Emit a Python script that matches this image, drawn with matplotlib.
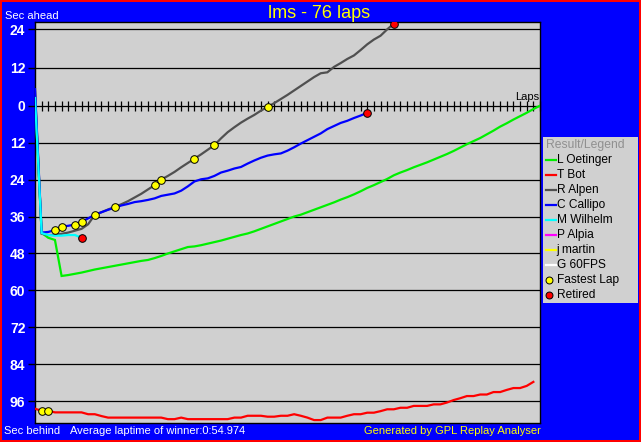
import numpy as np
import matplotlib
matplotlib.use("Agg")
import matplotlib.pyplot as plt
from matplotlib import font_manager
from matplotlib.patches import Rectangle

# ---------------- data ----------------
title = "lms - 76 laps"
total_laps = 76
footer_left = "Sec behind"
footer_mid = "Average laptime of winner:0:54.974"
footer_right = "Generated by GPL Replay Analyser"

drivers = ["L Oetinger", "T Bot", "R Alpen", "C Callipo", "M Wilhelm",
           "P Alpia", "j martin", "G 60FPS"]
driver_colors = ["#00F000", "#FF0000", "#505050", "#0000FF", "#00FFFF",
                 "#FF00FF", "#FFFF00", "#FFFFFF"]

# seconds behind (negative = ahead) per lap, starting at lap 0
oetinger = [-3.0, 41.3, 42.9, 43.6, 55.3, 55.0, 54.6, 54.2, 53.7, 53.2,
            52.8, 52.4, 52.0, 51.6, 51.2, 50.8, 50.4, 50.1, 49.5, 48.8,
            48.0, 47.3, 46.6, 45.9, 45.7, 45.3, 44.8, 44.3, 43.8, 43.2,
            42.6, 42.0, 41.5, 40.8, 40.0, 39.2, 38.4, 37.6, 36.8, 36.0,
            35.4, 34.6, 33.8, 33.0, 32.2, 31.4, 30.5, 29.7, 28.8, 27.8,
            26.7, 25.8, 24.8, 23.8, 22.6, 21.7, 20.9, 20.0, 19.2, 18.4,
            17.5, 16.6, 15.7, 14.7, 13.6, 12.5, 11.5, 10.5, 9.3, 8.1,
            6.8, 5.7, 4.5, 3.4, 2.3, 1.1, 0.0]
tbot = [98.4, 99.1, 99.1, 99.6, 99.6, 99.6, 99.6, 99.6, 100.2, 100.2,
        100.8, 101.3, 101.3, 101.3, 101.3, 101.3, 101.3, 101.3, 101.3, 101.3,
        101.8, 101.8, 101.3, 101.8, 101.8, 101.8, 101.8, 101.8, 101.8, 101.8,
        101.3, 101.3, 100.7, 100.7, 100.7, 101.0, 101.0, 100.7, 100.7, 100.2,
        100.7, 101.3, 102.1, 102.1, 101.3, 101.3, 101.3, 100.7, 100.2, 100.2,
        99.7, 99.7, 99.2, 98.6, 98.6, 98.1, 98.1, 97.5, 97.5, 97.5,
        97.0, 97.0, 96.4, 95.6, 95.0, 94.3, 94.3, 93.8, 93.8, 93.0,
        93.0, 92.3, 91.7, 91.7, 91.0, 89.7]
alpen = [-4.5, 41.6, 42.0, 42.0, 41.6, 41.2, 40.6, 40.0, 38.5, 35.4,
         34.6, 33.7, 32.9, 32.0, 31.0, 29.8, 28.6, 27.2, 25.8, 24.0,
         22.8, 21.5, 20.0, 18.6, 17.2, 15.8, 14.3, 12.8, 10.6, 8.6,
         7.0, 5.5, 4.2, 3.0, 1.6, 0.4, -0.8, -2.1, -3.4, -4.8,
         -6.2, -7.6, -9.0, -10.2, -10.5, -12.2, -13.4, -14.7, -15.8, -17.5,
         -19.3, -20.8, -22.0, -24.0, -25.8]
callipo = [-5.2, 41.2, 41.0, 40.4, 39.3, 39.0, 38.6, 37.7, 36.6, 35.4,
           34.6, 33.8, 33.1, 32.4, 31.9, 31.3, 31.0, 30.6, 30.1, 29.3,
           28.9, 28.5, 27.6, 26.2, 24.6, 23.9, 23.6, 22.8, 21.7, 21.1,
           20.4, 19.9, 18.8, 17.8, 16.9, 16.2, 15.8, 15.5, 14.6, 13.5,
           12.3, 11.2, 10.1, 9.0, 7.6, 6.6, 5.6, 4.9, 4.0, 3.2, 2.3]
wilhelm = [-2.4, 41.4, 42.0, 42.2, 42.2, 42.0, 42.0, 42.9]

fastest_driver = ["T Bot", "T Bot", "C Callipo", "C Callipo", "C Callipo",
                  "C Callipo", "R Alpen", "R Alpen", "R Alpen", "R Alpen",
                  "R Alpen", "R Alpen", "R Alpen"]
fastest_lap = [1, 2, 3, 4, 6, 7, 9, 12, 18, 19, 24, 27, 35]
retired_driver = ["M Wilhelm", "C Callipo", "R Alpen"]
retired_lap = [7, 50, 54]

y_ticks = [-24, -12, 0, 12, 24, 36, 48, 60, 72, 84, 96]
y_tick_labels = ["24", "12", "0", "12", "24", "36", "48", "60", "72", "84", "96"]

series = {"L Oetinger": oetinger, "T Bot": tbot, "R Alpen": alpen,
          "C Callipo": callipo, "M Wilhelm": wilhelm}

# ---------------- fonts ----------------
def pick(fams):
    for f in fams:
        try:
            font_manager.findfont(f, fallback_to_default=False)
            return f
        except Exception:
            pass
    return "DejaVu Sans"

FONT = pick(["Liberation Sans", "Arial", "DejaVu Sans"])
plt.rcParams["font.family"] = [FONT, "DejaVu Sans"]

W, H = 641, 442
BG_BLUE = "#0000FF"
PLOT_GREY = "#D0D0D0"

fig = plt.figure(figsize=(W / 100, H / 100), dpi=100, facecolor=BG_BLUE)

px_l, px_r, px_t, px_b = 35, 540, 22, 423
ax = fig.add_axes([px_l / W, (H - px_b) / H, (px_r - px_l) / W, (px_b - px_t) / H])
ax.set_facecolor(PLOT_GREY)

k_ahead = 3.18 / 3.079


def fwd(s):
    s = np.asarray(s, dtype=float)
    return np.where(s < 0, s * k_ahead, s)


def inv(t):
    t = np.asarray(t, dtype=float)
    return np.where(t < 0, t / k_ahead, t)


ax.set_yscale("function", functions=(fwd, inv))
ax.set_xlim(0, total_laps)
ax.set_ylim(103.05, -26.32)

for t in y_ticks:
    ax.axhline(t, color="black", lw=0.9, zorder=1)

lap_idx = np.arange(0, total_laps + 1)
ax.plot(lap_idx, np.zeros_like(lap_idx), ls="none", marker="|", ms=7, mew=0.9,
        color="black", zorder=1, clip_on=False)

ax.set_yticks(y_ticks)
ax.set_yticklabels(y_tick_labels)
ax.tick_params(axis="y", direction="out", length=5, width=1, color="black",
               labelcolor="white", labelsize=10, pad=2)
for lab in ax.get_yticklabels():
    lab.set_fontweight("bold")
ax.set_xticks([])
for sp in ax.spines.values():
    sp.set_color("black")
    sp.set_linewidth(1)

for name, col in zip(drivers, driver_colors):
    if name in series:
        vals = series[name]
        ax.plot(np.arange(len(vals)), vals, color=col, lw=1.6, zorder=3,
                solid_joinstyle="miter")

for d, lp in zip(fastest_driver, fastest_lap):
    ax.plot(lp, series[d][lp], ls="none", marker="o", ms=5.5, mfc="#FFFF00",
            mec="black", mew=0.7, zorder=5)
for d, lp in zip(retired_driver, retired_lap):
    ax.plot(lp, series[d][lp], ls="none", marker="o", ms=5.5, mfc="#FF0000",
            mec="black", mew=0.7, zorder=5)

ax.text(total_laps - 0.1, -1.2, "Laps", ha="right", va="bottom", fontsize=8,
        color="black")

fig.text(319.5 / W, 1 - 14 / H, title, color="#FFFF00", fontsize=13,
         ha="center", va="center")
fig.text(5 / W, 1 - 16 / H, "Sec ahead", color="white", fontsize=8,
         ha="left", va="center")
fig.text(4 / W, 1 - 431 / H, footer_left, color="white", fontsize=8,
         ha="left", va="center")
fig.text(70 / W, 1 - 431 / H, footer_mid, color="white", fontsize=8,
         ha="left", va="center")
fig.text(541 / W, 1 - 431 / H, footer_right, color="#FFFF00", fontsize=8,
         ha="right", va="center")

lg_l, lg_r, lg_t, lg_b = 542.7, 638.3, 136.7, 303.3
lax = fig.add_axes([lg_l / W, (H - lg_b) / H, (lg_r - lg_l) / W, (lg_b - lg_t) / H])
lax.set_facecolor(PLOT_GREY)
lax.set_xlim(0, lg_r - lg_l)
lax.set_ylim(lg_b - lg_t, 0)
lax.set_xticks([])
lax.set_yticks([])
for sp in lax.spines.values():
    sp.set_visible(False)
lax.text(3.3, 8.5, "Result/Legend", color="#909090", fontsize=8.7,
         ha="left", va="center")
row_y = 23.3
for name, col in zip(drivers, driver_colors):
    lax.plot([3.3, 13.3], [row_y, row_y], color=col, lw=1.6)
    lax.text(14.0, row_y, name, color="black", fontsize=8.6, ha="left", va="center")
    row_y += 15
lax.plot([6.3], [row_y], ls="none", marker="o", ms=5, mfc="#FFFF00", mec="black", mew=0.7)
lax.text(14.0, row_y, "Fastest Lap", color="black", fontsize=8.6, ha="left", va="center")
row_y += 15
lax.plot([6.3], [row_y], ls="none", marker="o", ms=5, mfc="#FF0000", mec="black", mew=0.7)
lax.text(14.0, row_y, "Retired", color="black", fontsize=8.6, ha="left", va="center")

fig.patches.append(Rectangle((0, 0), 1, 1, transform=fig.transFigure, fill=False,
                             edgecolor="#FF0000", lw=2.9))

fig.savefig("out.png", dpi=100, facecolor=BG_BLUE)
